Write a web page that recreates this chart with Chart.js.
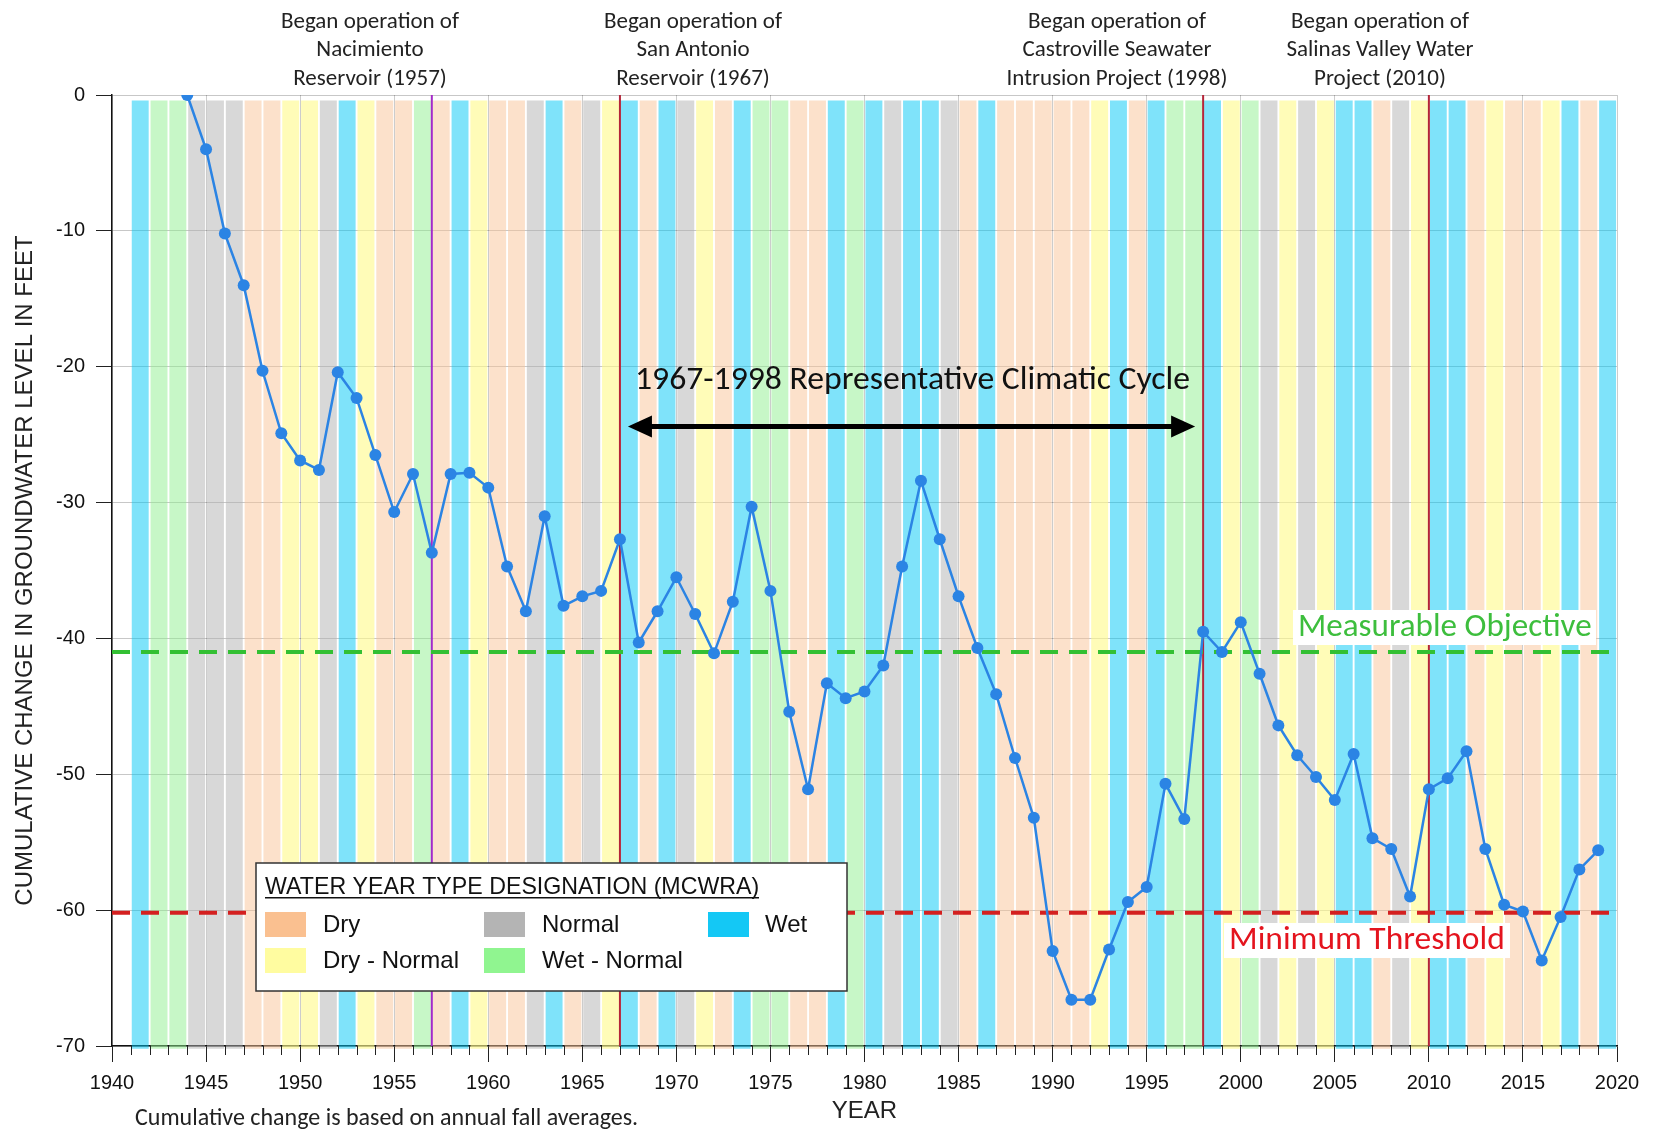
<!DOCTYPE html>
<html>
<head>
<meta charset="utf-8">
<title>Cumulative change in groundwater level</title>
<script src="https://cdn.jsdelivr.net/npm/chart.js@4.4.0/dist/chart.umd.min.js"></script>
<style>
html, body { margin: 0; padding: 0; background: #fff; }
canvas { display: block; }
</style>
</head>
<body>
<canvas id="groundwaterChart" width="1654" height="1133"></canvas>
<script>
// fall-average cumulative change, feet
const years = [1944,1945,1946,1947,1948,1949,1950,1951,1952,1953,1954,1955,1956,1957,1958,1959,
  1960,1961,1962,1963,1964,1965,1966,1967,1968,1969,1970,1971,1972,1973,1974,1975,1976,1977,1978,1979,
  1980,1981,1982,1983,1984,1985,1986,1987,1988,1989,1990,1991,1992,1993,1994,1995,1996,1997,1998,1999,
  2000,2001,2002,2003,2004,2005,2006,2007,2008,2009,2010,2011,2012,2013,2014,2015,2016,2017,2018,2019];
const levelChange = [0,-4.0,-10.2,-14.0,-20.3,-24.9,-26.9,-27.6,-20.4,-22.3,-26.5,-30.7,-27.9,-33.7,-27.9,-27.8,
  -28.9,-34.7,-38.0,-31.0,-37.6,-36.9,-36.5,-32.7,-40.3,-38.0,-35.5,-38.2,-41.1,-37.3,-30.3,-36.5,-45.4,-51.1,-43.3,-44.4,
  -43.9,-42.0,-34.7,-28.4,-32.7,-36.9,-40.7,-44.1,-48.8,-53.2,-63.0,-66.6,-66.6,-62.9,-59.4,-58.3,-50.7,-53.3,-39.5,-41.0,
  -38.8,-42.6,-46.4,-48.6,-50.2,-51.9,-48.5,-54.7,-55.5,-59.0,-51.1,-50.3,-48.3,-55.5,-59.6,-60.1,-63.7,-60.5,-57.0,-55.6];

// water year type, one per year starting at bandStart
const bandStart = 1941;
const bandTypes = [
  "W","WN","WN","N","N","N","D","D","DN","DN",      // 1941-1950
  "N","W","DN","D","D","WN","D","W","DN","D",       // 1951-1960
  "D","N","W","D","N","DN","W","D","W","N",         // 1961-1970
  "DN","D","W","WN","WN","D","D","W","WN","W",      // 1971-1980
  "N","W","W","N","D","W","D","D","D","D",          // 1981-1990
  "D","DN","W","D","W","WN","WN","W","DN","WN",     // 1991-2000
  "N","DN","N","DN","W","W","D","N","DN","W",       // 2001-2010
  "W","D","DN","D","D","DN","W","D","W"             // 2011-2019
];
const typeNames = { D: "Dry", DN: "Dry - Normal", N: "Normal", WN: "Wet - Normal", W: "Wet" };

const objectiveLevel = -41.0;
const thresholdLevel = -60.2;
const milestoneYears = [1957, 1967, 1998, 2010];
const milestoneLabels = [
  ["Began operation of", "Nacimiento", "Reservoir (1957)"],
  ["Began operation of", "San Antonio", "Reservoir (1967)"],
  ["Began operation of", "Castroville Seawater", "Intrusion Project (1998)"],
  ["Began operation of", "Salinas Valley Water", "Project (2010)"]
];
const cycleYears = [1967, 1998];

const yTicks = [0, -10, -20, -30, -40, -50, -60, -70];
const xMin = 1940, xMax = 2020;

// colours
const bandColors = {
  D: "rgba(249,196,152,0.5)", DN: "rgba(255,250,140,0.62)", N: "rgba(178,178,178,0.5)",
  WN: "rgba(144,240,144,0.5)", W: "rgba(0,200,245,0.5)"
};
const swatchColors = { D: "#FAC090", DN: "#FFFCA0", N: "#B4B4B4", WN: "#90F590", W: "#14C8F5" };
const calibri = "Carlito, Lato, 'Open Sans', sans-serif";
const arial = "'Liberation Sans', Arial, sans-serif";

const bandData = bandTypes.map((t, i) => ({ x: bandStart + i + 0.5, y: [-70.2, -0.4] }));
const levelData = years.map((y, i) => ({ x: y, y: levelChange[i] }));

const milestoneSets = milestoneYears.map(yr => ({
  type: "line",
  data: [{ x: yr, y: 0 }, { x: yr, y: -70 }],
  borderColor: yr === 1957 ? "#A52AC8" : "#B4263A",
  borderWidth: 2,
  pointRadius: 0,
  order: 5
}));

// pick a font size so the text spans the given width
function fitFont(ctx, text, family, width) {
  ctx.font = "100px " + family;
  const size = 100 * width / ctx.measureText(text).width;
  ctx.font = size.toFixed(1) + "px " + family;
  return size;
}

const overlay = {
  id: "overlay",
  afterDatasetsDraw(chart) {
    const ctx = chart.ctx;
    const x = chart.scales.x, y = chart.scales.y;

    // cycle arrow
    const ay = y.getPixelForValue(-24.4);
    const ax1 = x.getPixelForValue(cycleYears[0]) + 8;
    const ax2 = x.getPixelForValue(cycleYears[1]) - 8;
    ctx.save();
    ctx.strokeStyle = "#000";
    ctx.fillStyle = "#000";
    ctx.lineWidth = 5;
    ctx.beginPath();
    ctx.moveTo(ax1 + 18, ay);
    ctx.lineTo(ax2 - 18, ay);
    ctx.stroke();
    ctx.beginPath();
    ctx.moveTo(ax1, ay); ctx.lineTo(ax1 + 24, ay - 11); ctx.lineTo(ax1 + 24, ay + 11); ctx.closePath();
    ctx.fill();
    ctx.beginPath();
    ctx.moveTo(ax2, ay); ctx.lineTo(ax2 - 24, ay - 11); ctx.lineTo(ax2 - 24, ay + 11); ctx.closePath();
    ctx.fill();

    ctx.textBaseline = "middle";
    ctx.textAlign = "left";
    ctx.fillStyle = "#111";
    const cycleText = "1967-1998 Representative Climatic Cycle";
    fitFont(ctx, cycleText, calibri, 555);
    ctx.fillText(cycleText, 635, 381);

    // labelled reference lines
    ctx.fillStyle = "#fff";
    ctx.fillRect(1293, 610, 303, 35);
    ctx.fillRect(1224, 923, 286, 35);
    ctx.fillStyle = "#3DBE3D";
    fitFont(ctx, "Measurable Objective", calibri, 294);
    ctx.fillText("Measurable Objective", 1298, 628);
    ctx.fillStyle = "#E4141E";
    fitFont(ctx, "Minimum Threshold", calibri, 276);
    ctx.fillText("Minimum Threshold", 1229, 941);
    ctx.restore();
  },
  afterDraw(chart) {
    const ctx = chart.ctx;
    const x = chart.scales.x;
    const bottom = chart.chartArea.bottom;
    ctx.save();

    // minor year ticks
    ctx.strokeStyle = "#222";
    ctx.lineWidth = 1;
    for (let yr = xMin + 1; yr < xMax; yr++) {
      if (yr % 5 === 0) continue;
      const px = Math.round(x.getPixelForValue(yr)) + 0.5;
      ctx.beginPath();
      ctx.moveTo(px, bottom);
      ctx.lineTo(px, bottom + 9);
      ctx.stroke();
    }

    // milestone notes
    ctx.fillStyle = "#222";
    ctx.textAlign = "center";
    ctx.textBaseline = "middle";
    fitFont(ctx, "Began operation of", calibri, 178);
    const noteX = [370, 693, 1117, 1380];
    milestoneLabels.forEach((lines, i) => {
      lines.forEach((t, j) => ctx.fillText(t, noteX[i], 22 + j * 28.5));
    });

    // footnote
    ctx.textAlign = "left";
    const note = "Cumulative change is based on annual fall averages.";
    fitFont(ctx, note, calibri, 503);
    ctx.fillText(note, 135, 1119);

    // legend
    ctx.fillStyle = "#fff";
    ctx.fillRect(256, 863, 591, 128);
    ctx.strokeStyle = "#333";
    ctx.lineWidth = 1.5;
    ctx.strokeRect(256, 863, 591, 128);
    ctx.fillStyle = "#111";
    ctx.textBaseline = "alphabetic";
    const title = "WATER YEAR TYPE DESIGNATION (MCWRA)";
    const tsize = fitFont(ctx, title, arial, 494);
    ctx.fillText(title, 265, 894);
    ctx.fillRect(265, 897, 494, 1.5);

    const items = [
      ["D", 265, 912], ["N", 484, 912], ["W", 708, 912],
      ["DN", 265, 948], ["WN", 484, 948]
    ];
    ctx.font = "24px " + arial;
    ctx.textBaseline = "middle";
    items.forEach(([k, sx, sy]) => {
      ctx.fillStyle = swatchColors[k];
      ctx.fillRect(sx, sy, 41, 25);
      ctx.fillStyle = "#111";
      ctx.fillText(typeNames[k], sx + (k === "W" ? 57 : 58), sy + 13);
    });
    ctx.restore();
  }
};

new Chart(document.getElementById("groundwaterChart"), {
  type: "bar",
  data: {
    datasets: [
      {
        type: "line",
        data: levelData,
        borderColor: "#2B84E4",
        backgroundColor: "#2B84E4",
        borderWidth: 2.5,
        pointRadius: 6,
        pointBorderWidth: 0,
        pointBackgroundColor: "#2B84E4",
        tension: 0,
        order: 0
      },
      {
        type: "line",
        data: [{ x: xMin, y: objectiveLevel }, { x: xMax, y: objectiveLevel }],
        borderColor: "#33C033",
        borderWidth: 4,
        borderDash: [18, 11],
        pointRadius: 0,
        order: 3
      },
      {
        type: "line",
        data: [{ x: xMin, y: thresholdLevel }, { x: xMax, y: thresholdLevel }],
        borderColor: "#D42020",
        borderWidth: 4,
        borderDash: [18, 11],
        pointRadius: 0,
        order: 3
      },
      ...milestoneSets,
      {
        type: "bar",
        data: bandData,
        backgroundColor: bandTypes.map(t => bandColors[t]),
        borderWidth: 0,
        barPercentage: 0.9,
        categoryPercentage: 1.0,
        grouped: false,
        clip: false,
        order: 10
      }
    ]
  },
  options: {
    responsive: false,
    animation: false,
    devicePixelRatio: 1,
    events: [],
    layout: { padding: { top: 95, right: 37, left: 0, bottom: 0 } },
    plugins: { legend: { display: false }, tooltip: { enabled: false } },
    scales: {
      x: {
        type: "linear",
        min: xMin,
        max: xMax,
        offset: false,
        afterFit: s => { s.height = 87; },
        grid: { offset: false, color: "rgba(0,0,0,0.2)", tickColor: "#222", tickLength: 16 },
        border: { color: "#111", width: 1.5 },
        ticks: { stepSize: 5, padding: 9, color: "#111", font: { family: arial, size: 20 }, maxRotation: 0,
                 callback: v => String(v) },
        title: { display: true, text: "YEAR", color: "#222", font: { family: arial, size: 24 }, padding: { bottom: 7, top: 0 } }
      },
      y: {
        min: -70,
        max: 0,
        afterFit: s => { s.width = 112; },
        afterBuildTicks: s => { s.ticks = yTicks.map(v => ({ value: v })); },
        grid: { color: "rgba(0,0,0,0.22)", tickColor: "#222", tickLength: 16 },
        border: { color: "#111", width: 1.5 },
        ticks: { padding: 11, color: "#111", font: { family: arial, size: 20 } },
        title: { display: true, text: "CUMULATIVE CHANGE IN GROUNDWATER LEVEL IN FEET", color: "#222",
                 font: { family: arial, size: 24 }, padding: { top: 11, bottom: 0 } }
      }
    }
  },
  plugins: [overlay]
});
</script>
</body>
</html>
